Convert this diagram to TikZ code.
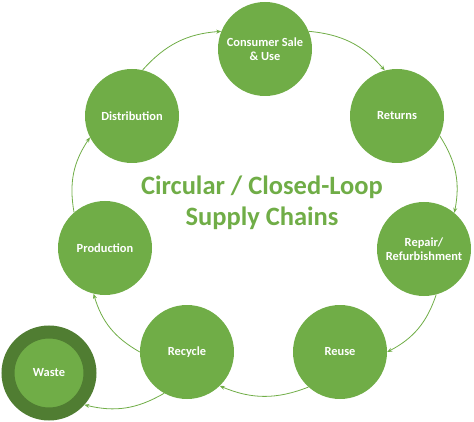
\documentclass[tikz,border=0pt]{standalone}
\usepackage{fontspec}
\setmainfont{Carlito}
\usetikzlibrary{arrows.meta}

\definecolor{leaf}{HTML}{70AD47}
\definecolor{moss}{HTML}{507D32}

\begin{document}
\begin{tikzpicture}[x=1pt,y=-1pt,
	stage/.style={circle,fill=leaf,minimum size=94pt,inner sep=0pt,align=center,
		text=white,font=\fontsize{12.4}{14.5}\selectfont\bfseries},
	flow/.style={leaf,line width=0.8pt,-{Stealth[length=5pt,width=4pt]}}]
	\useasboundingbox (0,0) rectangle (474,422);
	
	%STAGES
	\node[stage] (cons) at (265,49)  {Consumer Sale\\\& Use};
	\node[stage] (ret)  at (397,116) {Returns};
	\node[stage] (rep)  at (424,249) {Repair/\\Refurbishment};
	\node[stage] (reu)  at (340,352) {Reuse};
	\node[stage] (rec)  at (187,352) {Recycle};
	\node[stage] (prod) at (105,248) {Production};
	\node[stage] (dist) at (132,116) {Distribution};
	
	%WASTE
	\node[stage,minimum size=82pt,draw=moss,line width=13pt] (waste) at (49,373) {Waste};
	
	%TITLE
	\node[text=leaf,align=center,font=\fontsize{26.5}{31}\selectfont\bfseries] (title) at (262,203)
		{Circular / Closed-Loop\\Supply Chains};
	
	%ARROWS
	\foreach \a/\b/\o/\i/\t in {dist/cons/77/158/22, cons/ret/22/105/22, ret/rep/-25/50/22,
		rep/reu/-75/0/22, reu/rec/-132/-46/22, rec/prod/180/-104/22, prod/dist/131/207/22,
		rec/waste/-119/-42/22}{
		\draw[flow] (\a.\o) to[bend left=\t] (\b.\i);
	}
\end{tikzpicture}
\end{document}
